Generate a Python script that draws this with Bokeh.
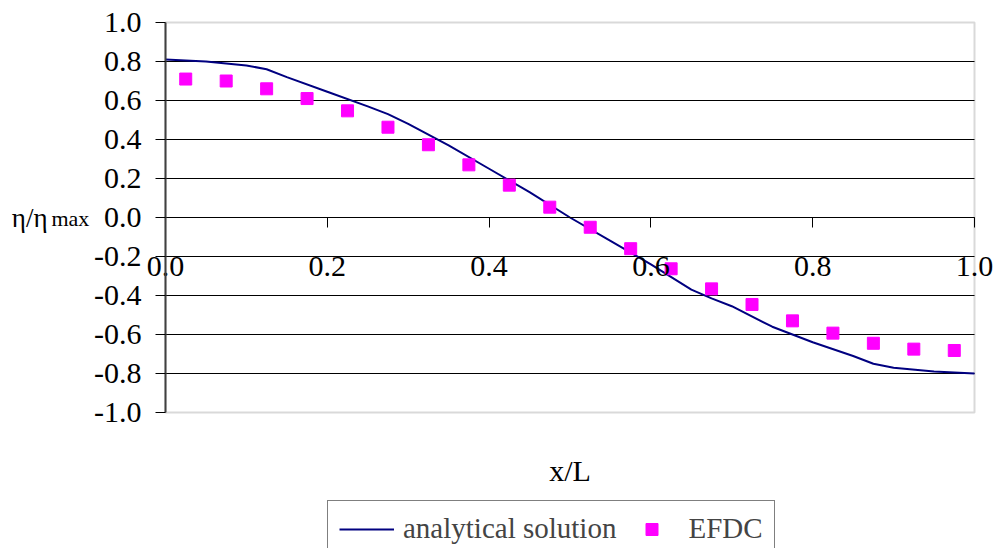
from bokeh.plotting import figure
from bokeh.models import (Range1d, FixedTicker, PrintfTickFormatter, Label, Legend,
                          LegendItem, BoxAnnotation)
from bokeh.embed import file_html
from bokeh.resources import INLINE

# ---- data ----
x_analytic = [0.0, 0.05, 0.10, 0.125, 0.15, 0.20, 0.25, 0.275, 0.30, 0.35, 0.40, 0.45,
              0.50, 0.55, 0.60, 0.65, 0.675, 0.70, 0.75, 0.80, 0.85, 0.875, 0.90, 0.95, 1.0]
y_analytic = [0.81, 0.80, 0.78, 0.76, 0.72, 0.645, 0.57, 0.53, 0.48, 0.37, 0.25, 0.13,
              0.0, -0.12, -0.24, -0.37, -0.415, -0.455, -0.56, -0.64, -0.71, -0.75, -0.77, -0.79, -0.80]
x_efdc = [0.025, 0.075, 0.125, 0.175, 0.225, 0.275, 0.325, 0.375, 0.425, 0.475,
          0.525, 0.575, 0.625, 0.675, 0.725, 0.775, 0.825, 0.875, 0.925, 0.975]
y_efdc = [0.71, 0.70, 0.66, 0.61, 0.547, 0.463, 0.373, 0.27, 0.166, 0.053,
          -0.05, -0.16, -0.263, -0.366, -0.446, -0.53, -0.593, -0.645, -0.675, -0.682]
y_ticks = [-1.0, -0.8, -0.6, -0.4, -0.2, 0.0, 0.2, 0.4, 0.6, 0.8, 1.0]
x_ticks = [0.0, 0.2, 0.4, 0.6, 0.8, 1.0]
grid_ticks = [-0.8, -0.6, -0.4, -0.2, 0.0, 0.2, 0.4, 0.6, 0.8]

FONT = "Liberation Serif"
W, H = 1000, 548
# plot area in pixels: x 165..974, y(1.0)=22 .. y(-1.0)=412
PX_L, PX_R, PY_T, PY_B = 165.0, 974.0, 22.0, 412.0
sx = (PX_R - PX_L) / 1.0
sy = (PY_B - PY_T) / 2.0
x0 = -PX_L / sx
x1 = x0 + W / sx
y1 = 1.0 + PY_T / sy
y0 = y1 - H / sy

p = figure(width=W, height=H, output_backend="svg", toolbar_location=None,
           x_range=Range1d(x0, x1), y_range=Range1d(y0, y1),
           min_border_left=0, min_border_right=0, min_border_top=0, min_border_bottom=0)

p.outline_line_color = None
p.xgrid.visible = False
p.ygrid.visible = False

# plot-area border (gray), drawn underneath
p.add_layout(BoxAnnotation(left=0, right=1, bottom=-1, top=1, fill_alpha=0,
                           line_color="#808080", line_width=2, level="underlay"))
# horizontal gridlines at the tick values
p.segment(x0=[0] * len(grid_ticks), x1=[1] * len(grid_ticks), y0=grid_ticks, y1=grid_ticks,
          line_color="black", line_width=1)

# y axis at x = 0
p.yaxis.fixed_location = 0
p.yaxis.bounds = (-1, 1)
p.yaxis.ticker = FixedTicker(ticks=y_ticks)
p.yaxis.formatter = PrintfTickFormatter(format="%.1f")
p.yaxis.minor_tick_line_color = None
p.yaxis.major_tick_in = 0
p.yaxis.major_tick_out = 10
p.yaxis.major_tick_line_color = "black"
p.yaxis.axis_line_color = "#404040"
p.yaxis.axis_line_width = 2
p.yaxis.major_label_standoff = 14
p.yaxis.major_label_text_font = FONT
p.yaxis.major_label_text_font_size = "30px"
p.yaxis.major_label_text_color = "black"

# x axis at y = 0
p.xaxis.fixed_location = 0
p.xaxis.bounds = (0, 1)
p.xaxis.ticker = FixedTicker(ticks=x_ticks)
p.xaxis.formatter = PrintfTickFormatter(format="%.1f")
p.xaxis.minor_tick_line_color = None
p.xaxis.major_tick_in = 0
p.xaxis.major_tick_out = 10
p.xaxis.major_tick_line_color = "black"
p.xaxis.axis_line_color = "black"
p.xaxis.axis_line_width = 1
p.xaxis.major_label_standoff = 29
p.xaxis.major_label_text_font = FONT
p.xaxis.major_label_text_font_size = "30px"
p.xaxis.major_label_text_color = "black"

r_line = p.line(x_analytic, y_analytic, line_color="#000080", line_width=2)
r_pts = p.scatter(x_efdc, y_efdc, marker="square", size=12, fill_color="#FF00FF",
                  line_color="#FF00FF")

# axis titles
p.add_layout(Label(x=-0.190, y=-0.005, text="η/η", text_font=FONT, text_font_size="27px",
                   text_baseline="alphabetic", text_color="black"))
p.add_layout(Label(x=-0.141, y=-0.005, text="max", text_font=FONT, text_font_size="22px",
                   text_baseline="alphabetic", text_color="black"))
p.add_layout(Label(x=0.5, y=-1.295, text="x/L", text_font=FONT, text_font_size="30px",
                   text_align="center", text_baseline="alphabetic", text_color="black"))

legend = Legend(items=[LegendItem(label="analytical solution", renderers=[r_line]),
                       LegendItem(label="EFDC", renderers=[r_pts])],
                orientation="horizontal", location=(327, -9),
                label_text_font=FONT, label_text_font_size="29px",
                glyph_width=55, glyph_height=30, label_standoff=9, spacing=8,
                padding=11, margin=0,
                border_line_color="black", border_line_width=1,
                background_fill_color="white", background_fill_alpha=1)
p.add_layout(legend, "center")

open("out.html", "w").write(file_html(p, INLINE))
